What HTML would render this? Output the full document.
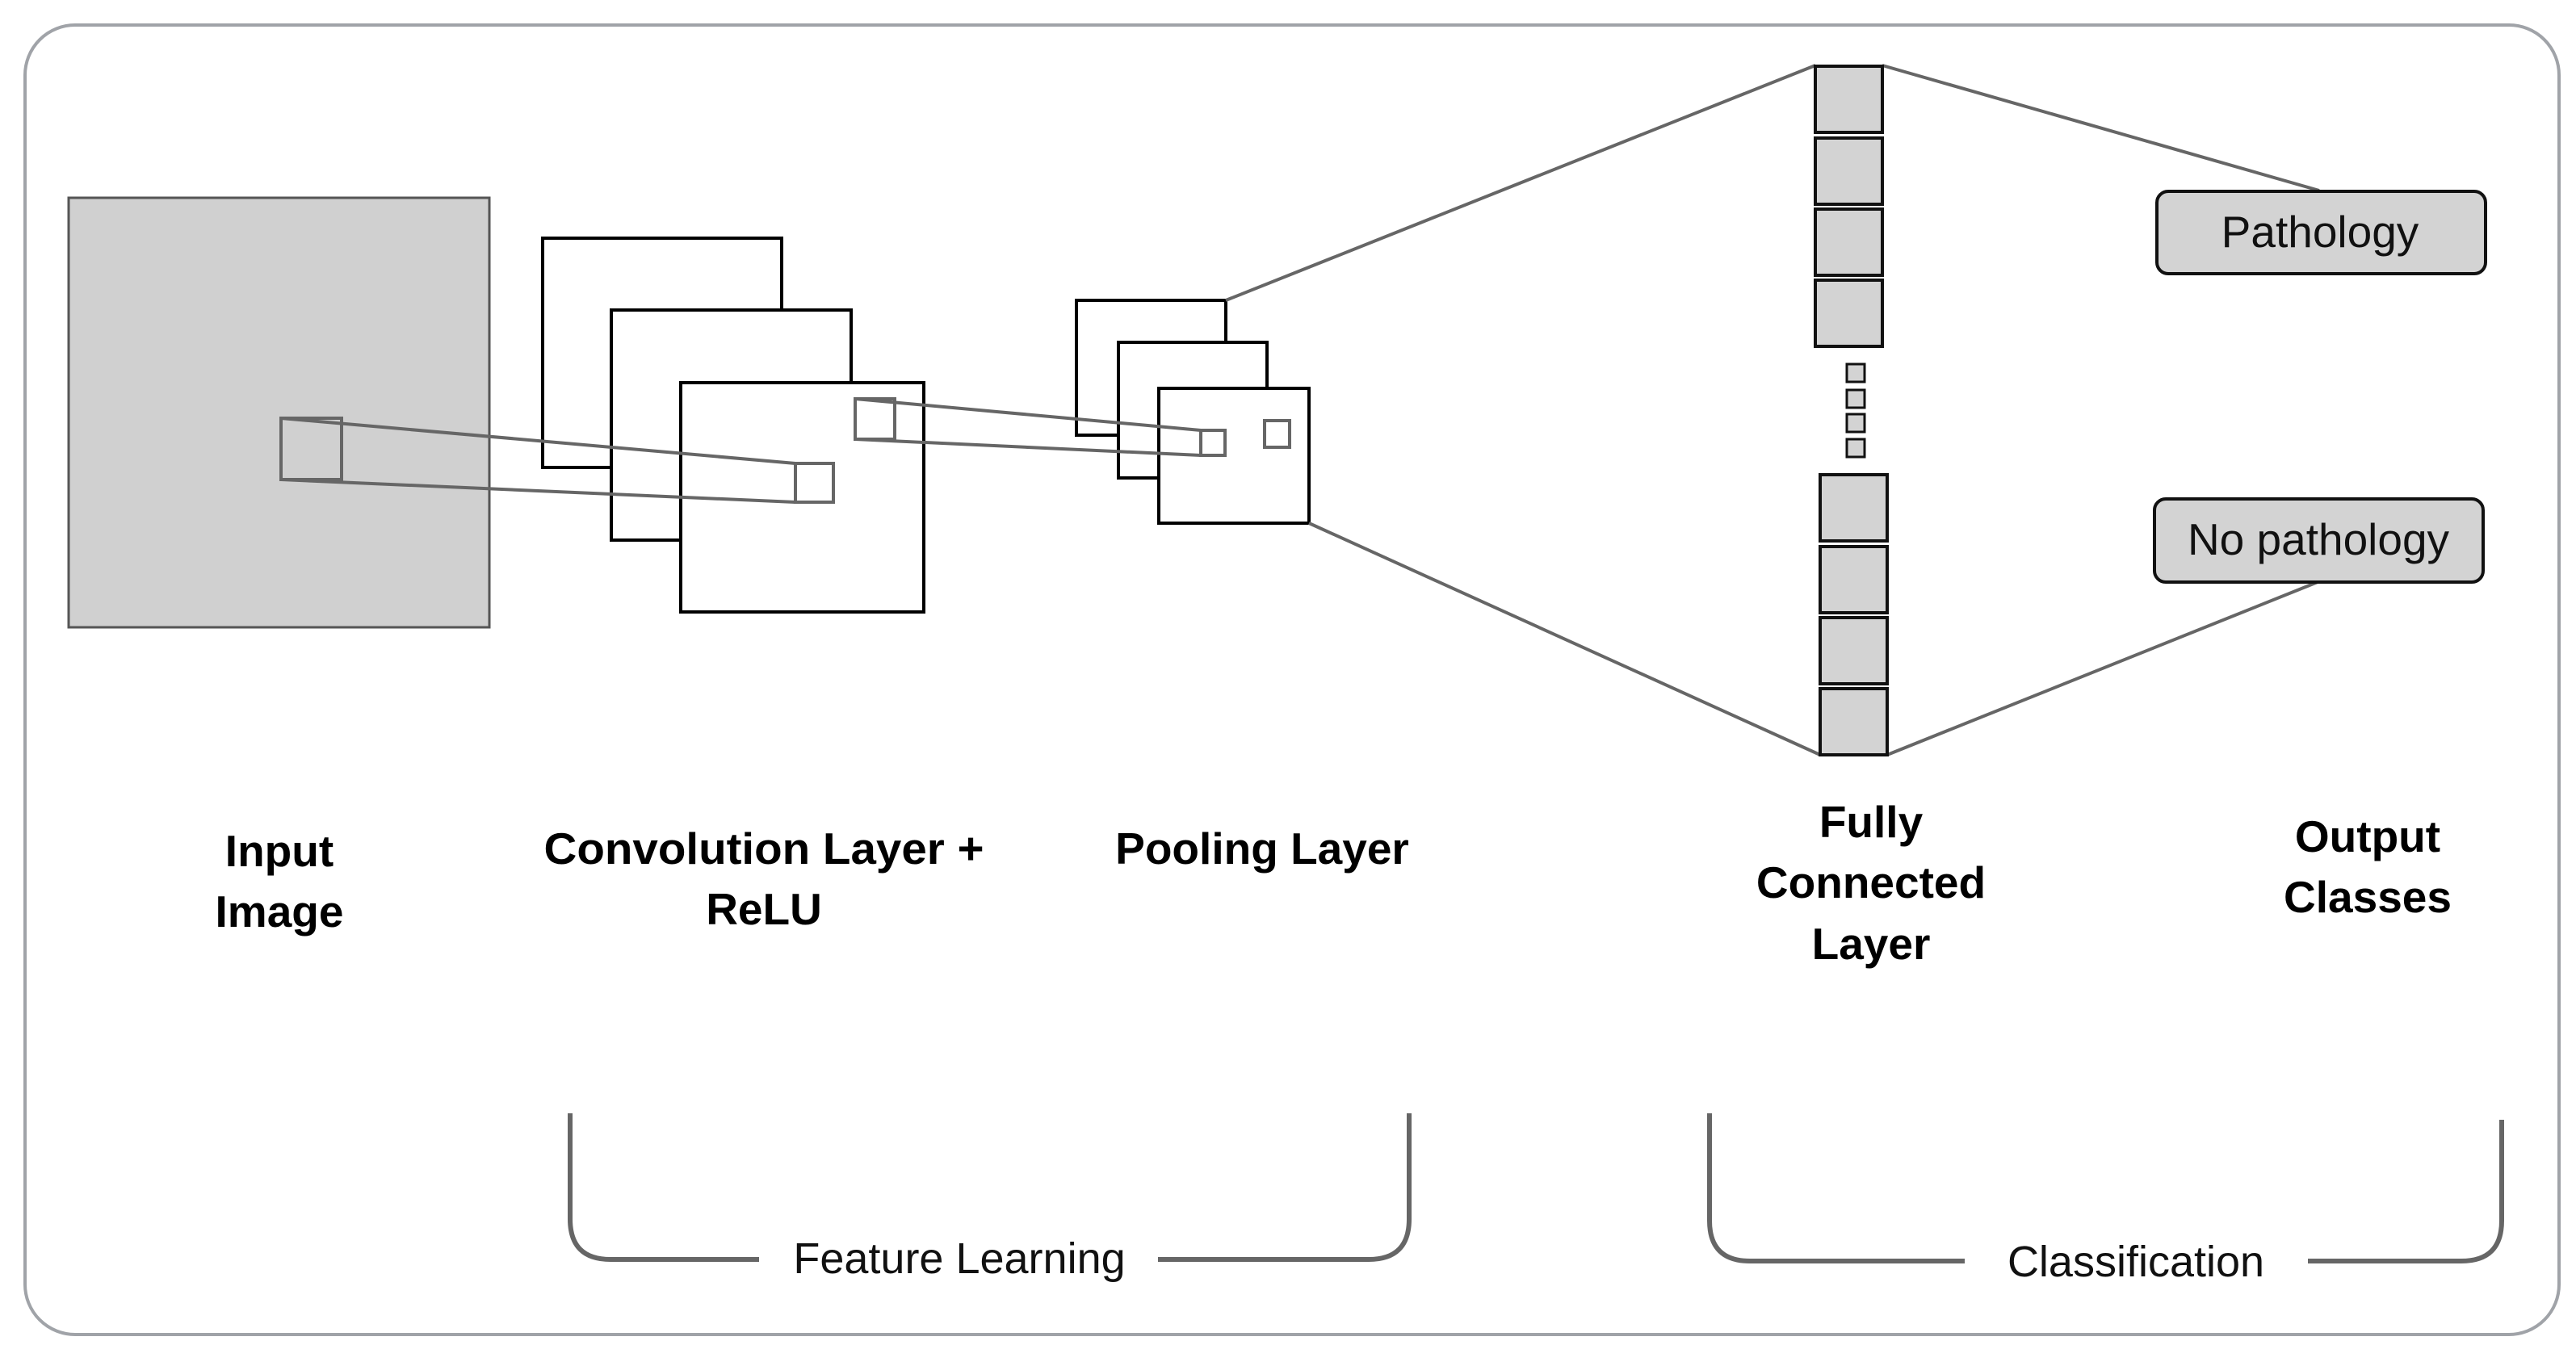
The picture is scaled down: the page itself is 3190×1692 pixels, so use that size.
<!DOCTYPE html>
<html><head><meta charset="utf-8"><style>
html,body{margin:0;padding:0;background:#fff;}
svg{display:block;}
text{font-family:"Liberation Sans",sans-serif;}
</style></head><body>
<svg width="3190" height="1692" viewBox="0 0 3190 1692" xmlns="http://www.w3.org/2000/svg">
<rect x="31" y="31" width="3138" height="1622" rx="62" fill="#fff" stroke="#a0a3a8" stroke-width="4"/>
<rect x="85" y="245" width="521" height="532" fill="#d0d0d0" stroke="#555" stroke-width="3"/>
<g fill="#fff" stroke="#000" stroke-width="4">
<rect x="672" y="295" width="296" height="284"/>
<rect x="757" y="384" width="297" height="285"/>
<rect x="843" y="474" width="301" height="284"/>
</g>
<g fill="#fff" stroke="#000" stroke-width="4">
<rect x="1333" y="372" width="185" height="167"/>
<rect x="1385" y="424" width="184" height="168"/>
<rect x="1435" y="481" width="186" height="167"/>
</g>
<g fill="none" stroke="#666" stroke-width="4">
<rect x="348" y="518" width="75" height="76"/>
<rect x="985" y="574" width="47" height="48"/>
<rect x="1059" y="494" width="49" height="50"/>
<rect x="1487" y="533" width="30" height="31"/>
<rect x="1566" y="521" width="31" height="33"/>
<line x1="348" y1="518" x2="985" y2="574"/>
<line x1="348" y1="594" x2="985" y2="622"/>
<line x1="1059" y1="494" x2="1487" y2="533"/>
<line x1="1059" y1="544" x2="1487" y2="564"/>
<line x1="1518" y1="372" x2="2248" y2="81"/>
<line x1="1621" y1="648" x2="2254" y2="935"/>
<line x1="2331" y1="81" x2="2872" y2="236"/>
<line x1="2337" y1="935" x2="2870" y2="721"/>
</g>
<g fill="#d3d3d3" stroke="#111" stroke-width="4">
<rect x="2248" y="82" width="83" height="82"/>
<rect x="2248" y="171" width="83" height="82"/>
<rect x="2248" y="259" width="83" height="82"/>
<rect x="2248" y="347" width="83" height="82"/>
<rect x="2287" y="451" width="22" height="22" stroke-width="3"/>
<rect x="2287" y="483" width="22" height="22" stroke-width="3"/>
<rect x="2287" y="513" width="22" height="22" stroke-width="3"/>
<rect x="2287" y="544" width="22" height="22" stroke-width="3"/>
<rect x="2254" y="588" width="83" height="82"/>
<rect x="2254" y="677" width="83" height="82"/>
<rect x="2254" y="765" width="83" height="82"/>
<rect x="2254" y="853" width="83" height="82"/>
</g>
<rect x="2671" y="237" width="407" height="102" rx="14" fill="#d3d3d3" stroke="#111" stroke-width="4"/>
<rect x="2668" y="618" width="407" height="103" rx="14" fill="#d3d3d3" stroke="#111" stroke-width="4"/>
<text x="2873" y="306" font-size="55" text-anchor="middle" fill="#111">Pathology</text>
<text x="2871" y="687" font-size="55" text-anchor="middle" fill="#111">No pathology</text>
<g font-size="55" font-weight="bold" text-anchor="middle" fill="#000">
<text x="346" y="1073">Input</text>
<text x="346" y="1148">Image</text>
<text x="946" y="1070" textLength="545" lengthAdjust="spacingAndGlyphs">Convolution Layer  +</text>
<text x="946" y="1145">ReLU</text>
<text x="1563" y="1070">Pooling Layer</text>
<text x="2317" y="1037">Fully</text>
<text x="2317" y="1112">Connected</text>
<text x="2317" y="1188">Layer</text>
<text x="2932" y="1055">Output</text>
<text x="2932" y="1130">Classes</text>
</g>
<g fill="none" stroke="#666" stroke-width="6">
<path d="M706 1379 V1510 Q706 1560 756 1560 H940"/>
<path d="M1434 1560 H1695 Q1745 1560 1745 1510 V1379"/>
<path d="M2117 1379 V1512 Q2117 1562 2167 1562 H2433"/>
<path d="M2858 1562 H3048 Q3098 1562 3098 1512 V1387"/>
</g>
<text x="1188" y="1577" font-size="54" text-anchor="middle" fill="#111">Feature Learning</text>
<text x="2645" y="1581" font-size="54" text-anchor="middle" fill="#111">Classification</text>
</svg>
</body></html>
